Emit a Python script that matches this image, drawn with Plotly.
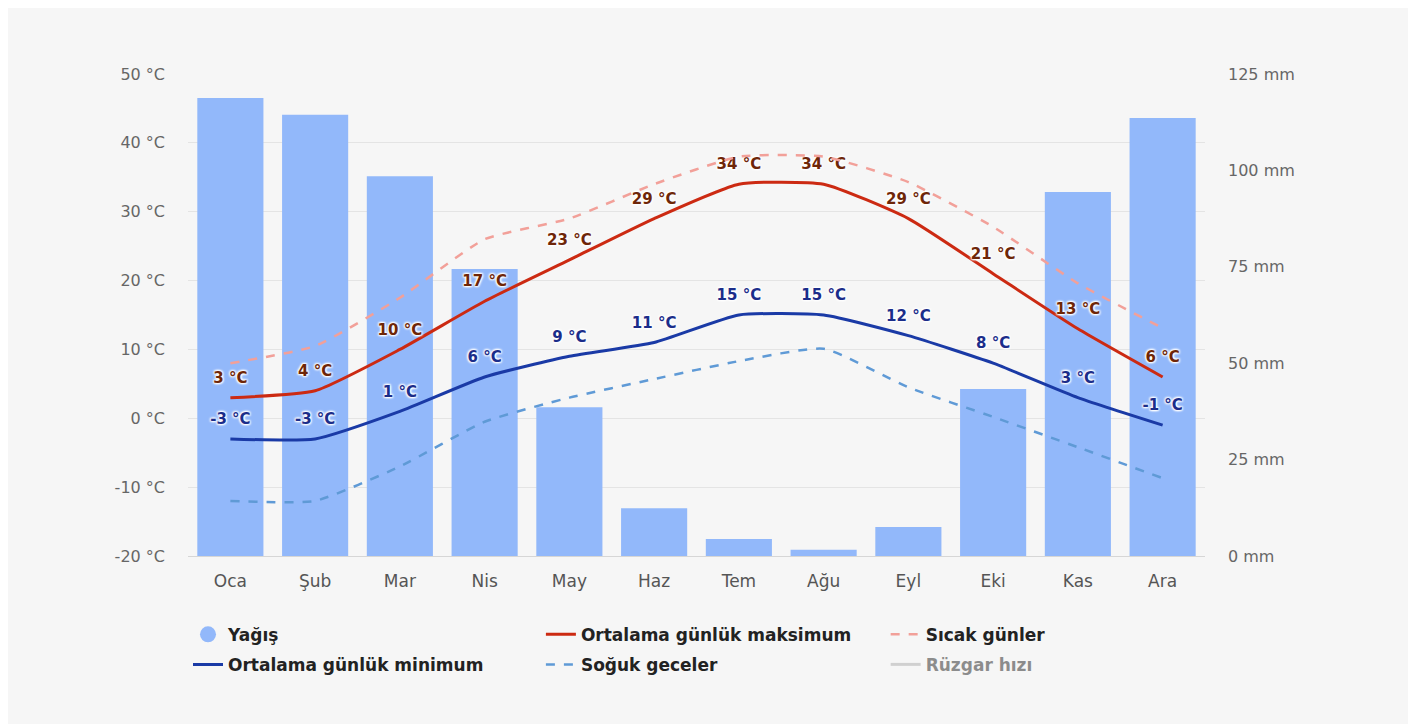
import plotly.graph_objects as go

MONTHS = ["Oca", "Şub", "Mar", "Nis", "May", "Haz", "Tem", "Ağu", "Eyl", "Eki", "Kas", "Ara"]
PRECIP_MM = [118.8, 114.4, 98.5, 74.4, 38.6, 12.4, 4.4, 1.6, 7.5, 43.3, 94.4, 113.6]
MAX_TEMP = [3, 4, 10, 17, 23, 29, 34, 34, 29, 21, 13, 6]
MIN_TEMP = [-3, -3, 1, 6, 9, 11, 15, 15, 12, 8, 3, -1]
HOT_DAYS = [8, 10.5, 17.5, 26, 29, 34, 38, 38, 34.3, 27.8, 19.6, 13.1]
COLD_NIGHTS = [-12, -12, -7, -0.5, 3, 5.7, 8.3, 10.1, 4.5, 0.2, -4.2, -8.7]
WIND_SPEED = [None]  # series is switched off in the original (legend only)

TEMP_TICKS = list(range(-20, 51, 10))
MM_TICKS = list(range(0, 126, 25))

FONT = "DejaVu Sans"
OUTLINE = "1px 1px 2px #fff, -1px -1px 2px #fff, 1px -1px 2px #fff, -1px 1px 2px #fff"
SPLINE = dict(shape="spline", smoothing=0.5)

fig = go.Figure()

# precipitation bars (mm axis, drawn underneath)
fig.add_bar(x=MONTHS, y=PRECIP_MM, yaxis="y", marker_color="#92b8fa",
            marker_line_width=0, showlegend=False, name="Yağış")

# legend column 1: Yağış (circle proxy) + minimum
fig.add_scatter(x=[None], y=[None], mode="markers", name="Yağış", yaxis="y2",
                marker=dict(symbol="circle", size=17, color="#92b8fa"),
                legend="legend", legendgroup="g1")
# column 2: maximum + cold nights, column 3: hot days + wind
fig.add_scatter(x=MONTHS, y=MAX_TEMP, name="Ortalama günlük maksimum", yaxis="y2",
                mode="lines+markers+text", line=dict(color="#cc2a12", width=3, **SPLINE),
                marker=dict(size=16, color="rgba(0,0,0,0)"),
                text=[f"{v} °C" for v in MAX_TEMP], textposition="top center",
                textfont=dict(family=FONT, size=15, color="#6e2608", weight="bold", shadow=OUTLINE),
                legend="legend2", legendgroup="g2")
fig.add_scatter(x=MONTHS, y=HOT_DAYS, name="Sıcak günler", mode="lines", yaxis="y2",
                line=dict(color="#f2a099", width=2.5, dash="dash", **SPLINE),
                legend="legend3", legendgroup="g3")
fig.add_scatter(x=MONTHS, y=MIN_TEMP, name="Ortalama günlük minimum", yaxis="y2",
                mode="lines+markers+text", line=dict(color="#1a3aa6", width=3, **SPLINE),
                marker=dict(size=16, color="rgba(0,0,0,0)"),
                text=[f"{v} °C" for v in MIN_TEMP], textposition="top center",
                textfont=dict(family=FONT, size=15, color="#1b2d8a", weight="bold", shadow=OUTLINE),
                legend="legend", legendgroup="g4")
fig.add_scatter(x=MONTHS, y=COLD_NIGHTS, name="Soğuk geceler", mode="lines", yaxis="y2",
                line=dict(color="#5f9ad6", width=2.5, dash="dash", **SPLINE),
                legend="legend2", legendgroup="g5")
fig.add_scatter(x=[None], y=WIND_SPEED, name="Rüzgar hızı", mode="lines", yaxis="y2",
                line=dict(color="#aaaaaa", width=3), visible="legendonly",
                legend="legend3", legendgroup="g6")

legend_style = dict(orientation="v", xanchor="left", yanchor="top", y=-0.126,
                    bgcolor="rgba(0,0,0,0)", tracegroupgap=5,
                    font=dict(family=FONT, size=17, color="#222", weight="bold"),
                    itemclick=False, itemdoubleclick=False, traceorder="grouped")

fig.update_layout(
    width=1416, height=724,
    paper_bgcolor="#f6f6f6", plot_bgcolor="#f6f6f6",
    margin=dict(l=180, r=219, t=66, b=176),
    bargap=0.22,
    font=dict(family=FONT, size=16, color="#666"),
    xaxis=dict(range=[-0.5, 11.5], showgrid=False, showline=True, linecolor="#d6d6d6",
               linewidth=1, tickfont=dict(size=17, color="#555"), ticks="", ticklabelstandoff=10),
    yaxis=dict(range=[0, 125], tickvals=MM_TICKS, ticktext=[f"{t} mm" for t in MM_TICKS],
               side="right", showgrid=False, zeroline=False,
               ticklabelstandoff=22, tickfont=dict(size=16, color="#666")),
    yaxis2=dict(range=[-20, 50], tickvals=TEMP_TICKS, ticktext=[f"{t} °C" for t in TEMP_TICKS],
                overlaying="y", side="left", gridcolor="#e4e4e4", zeroline=False,
                ticklabelstandoff=22, tickfont=dict(size=16, color="#666")),
    legend=dict(legend_style, x=0),
    legend2=dict(legend_style, x=0.347),
    legend3=dict(legend_style, x=0.686),
    showlegend=True,
)

fig.write_html("out.html")
